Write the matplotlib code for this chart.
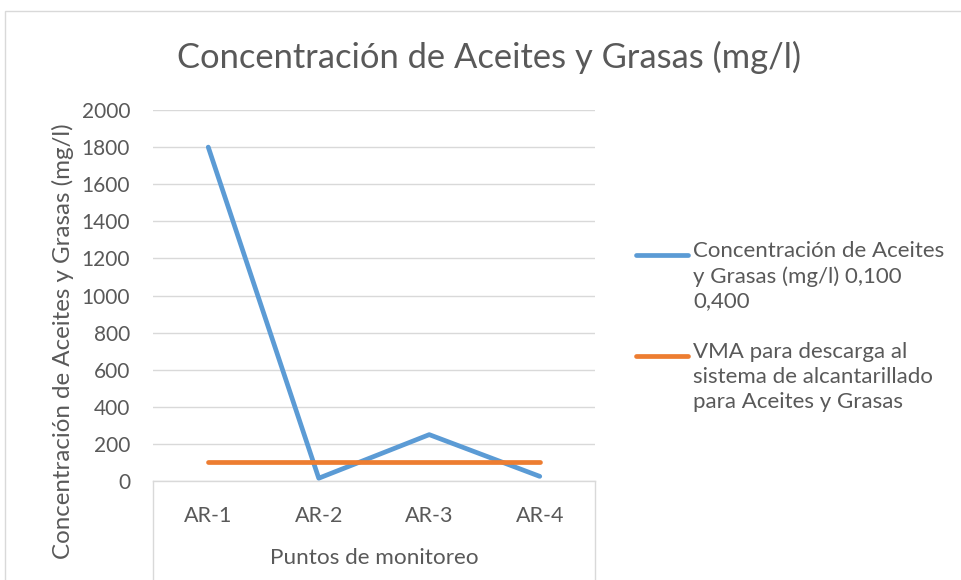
import matplotlib.pyplot as plt
from matplotlib.lines import Line2D
from matplotlib.patches import Rectangle

# datos
puntos = ['AR-1', 'AR-2', 'AR-3', 'AR-4']
concentracion = [1800, 15, 250, 25]   # mg/l
vma = [100, 100, 100, 100]            # valor maximo admisible

etiqueta_conc = 'Concentración de Aceites\ny Grasas (mg/l) 0,100\n0,400'
etiqueta_vma = 'VMA para descarga al\nsistema de alcantarillado\npara Aceites y Grasas'

azul = '#5B9BD5'
naranja = '#ED7D31'
gris_txt = '#595959'
gris_lin = '#D9D9D9'

plt.rcParams['font.family'] = ['Lato', 'DejaVu Sans']

W, H = 961, 580
fig = plt.figure(figsize=(W / 100, H / 100), dpi=100)
ax = fig.add_axes([153 / W, 1 - 481 / H, (595 - 153) / W, (481 - 110) / H])

x = range(len(puntos))
ax.plot(x, concentracion, color=azul, lw=3.4, solid_capstyle='round', zorder=3)
ax.plot(x, vma, color=naranja, lw=3.4, solid_capstyle='round', zorder=3)

ax.set_xlim(-0.5, len(puntos) - 0.5)
ax.set_ylim(0, 2000)
ax.set_yticks(range(0, 2001, 200))
ax.set_xticks(list(x))
ax.set_xticklabels(puntos)
ax.tick_params(length=0, colors=gris_txt)
ax.tick_params(axis='y', pad=16.5, labelsize=15)
ax.tick_params(axis='x', pad=18, labelsize=15.5)
ax.grid(axis='y', color=gris_lin, lw=1)
ax.set_axisbelow(True)
for s in ['top', 'right', 'left']:
    ax.spines[s].set_visible(False)
ax.spines['bottom'].set_color(gris_lin)
ax.spines['bottom'].set_linewidth(1)

ax.set_xlabel('Puntos de monitoreo', fontsize=16.2, color=gris_txt, labelpad=16)
ax.set_ylabel('Concentración de Aceites y Grasas (mg/l)', fontsize=17.4, color=gris_txt)
ax.yaxis.set_label_coords((74 - 153) / (595 - 153), (481 - 341) / (481 - 110))

# caja del eje de categorias
for xv in [153, 595]:
    fig.add_artist(Line2D([xv / W, xv / W], [1 - 481 / H, 0], color=gris_lin, lw=1))

# borde del grafico
fig.add_artist(Rectangle((5 / W, -0.1), 1.2, 1 - 11 / H + 0.1, fill=False,
                         edgecolor=gris_lin, lw=1, transform=fig.transFigure))

fig.text(489 / W, 1 - 57 / H, 'Concentración de Aceites y Grasas (mg/l)',
         ha='center', va='center', fontsize=24.8, color=gris_txt)

# leyenda
for color, texto, yy in [(azul, etiqueta_conc, 255), (naranja, etiqueta_vma, 356)]:
    fig.add_artist(Line2D([636 / W, 688 / W], [1 - yy / H] * 2, color=color, lw=3.4,
                          solid_capstyle='round'))
    fig.text(693 / W, 1 - (yy - 14) / H, texto, ha='left', va='top', fontsize=16,
             color=gris_txt, linespacing=1.3)

fig.savefig('out.png', dpi=100)
